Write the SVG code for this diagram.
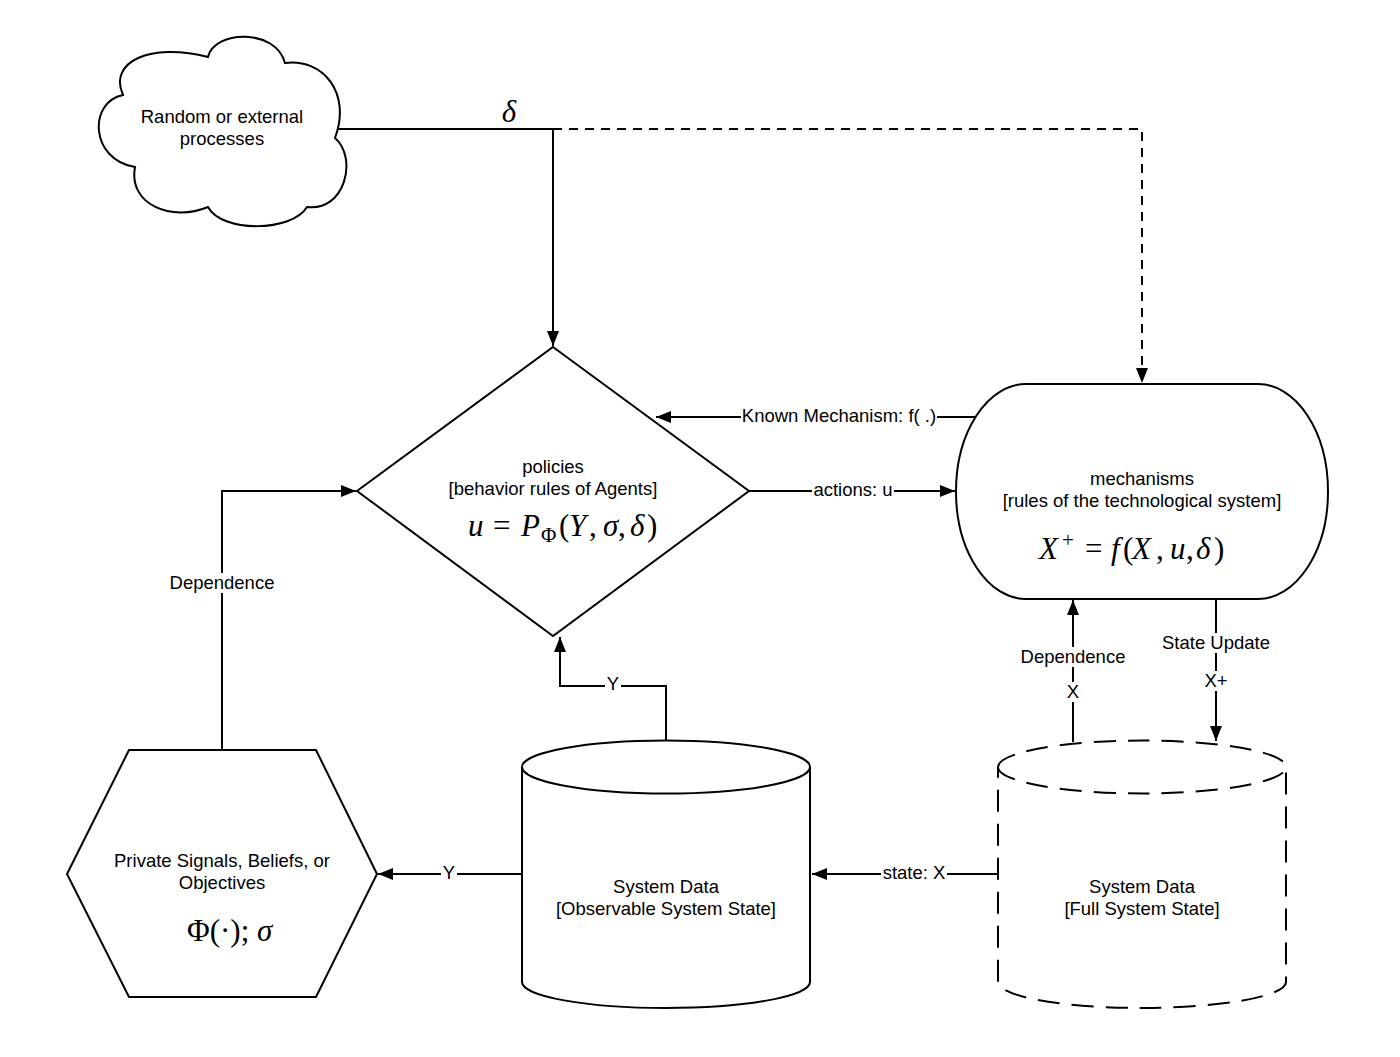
<svg xmlns="http://www.w3.org/2000/svg" width="1400" height="1057" viewBox="0 0 1400 1057">
<style>
.s{fill:#fff;stroke:#000;stroke-width:2}
.d{fill:#fff;stroke:#000;stroke-width:2;stroke-dasharray:22 12}
.c{fill:none;stroke:#000;stroke-width:2}
.cd{fill:none;stroke:#000;stroke-width:2;stroke-dasharray:9 7}
.t{font-family:"Liberation Sans",Arial,sans-serif;font-size:18.5px;fill:#000;text-anchor:middle}
.bg{fill:#fff;stroke:none}
.m{font-family:"Liberation Serif","Times New Roman",serif;font-size:31px;fill:#000}
.i{font-style:italic}
.sub{font-size:21px}
</style>
<defs>
<marker id="a" markerUnits="userSpaceOnUse" markerWidth="15" markerHeight="12" refX="15" refY="6" orient="auto">
<path d="M0,0 L15,6 L0,12 Z" fill="#000"/>
</marker>
</defs>
<rect width="1400" height="1057" fill="#fff"/>

<g id="connectors">
<path class="c" d="M336,129 H553"/>
<path class="c" d="M553,129 V346" marker-end="url(#a)"/>
<path class="cd" d="M553,129 H1142 V383" marker-end="url(#a)"/>
<path class="c" d="M975,417 H656" marker-end="url(#a)"/>
<path class="c" d="M749,491 H955" marker-end="url(#a)"/>
<path class="c" d="M222,750 V491 H356" marker-end="url(#a)"/>
<path class="c" d="M666,740 V686 H560 V637" marker-end="url(#a)"/>
<path class="c" d="M521,874 H378" marker-end="url(#a)"/>
<path class="c" d="M998,874 H812" marker-end="url(#a)"/>
<path class="c" d="M1073,742 V600" marker-end="url(#a)"/>
<path class="c" d="M1216,599 V741" marker-end="url(#a)"/>
<text class="m i" x="509" y="122" text-anchor="middle" font-size="28">δ</text>
<rect class="bg" x="741" y="406" width="196" height="20"/>
<text class="t" x="839" y="422">Known Mechanism: f( .)</text>
<rect class="bg" x="812" y="480" width="82" height="20"/>
<text class="t" x="853" y="496">actions: u</text>
<rect class="bg" x="168" y="573" width="108" height="20"/>
<text class="t" x="222" y="589">Dependence</text>
<rect class="bg" x="605" y="674" width="16" height="20"/>
<text class="t" x="613" y="690">Y</text>
<rect class="bg" x="441" y="863" width="16" height="20"/>
<text class="t" x="449" y="879">Y</text>
<rect class="bg" x="881" y="863" width="66" height="20"/>
<text class="t" x="914" y="879">state: X</text>
<rect class="bg" x="1019" y="647" width="108" height="20"/>
<text class="t" x="1073" y="663">Dependence</text>
<rect class="bg" x="1065" y="682" width="16" height="20"/>
<text class="t" x="1073" y="698">X</text>
<rect class="bg" x="1161" y="633" width="110" height="20"/>
<text class="t" x="1216" y="649">State Update</text>
<rect class="bg" x="1203" y="671" width="26" height="20"/>
<text class="t" x="1216" y="687">X+</text>
</g>

<g id="cloud">
<path class="s" d="M123,95 C108,62 150,42 208,57 C214,30 276,28 285,63 C322,58 352,92 335,138 C358,158 345,212 307,207 C292,232 222,233 208,207 C172,222 128,205 135,167 C90,160 88,102 123,95 Z"/>
<text class="t" x="222" y="123">Random or external</text>
<text class="t" x="222" y="145">processes</text>
</g>

<g id="policies">
<path class="s" d="M553,347 L749,491 L553,636 L357,491 Z"/>
<text class="t" x="553" y="473">policies</text>
<text class="t" x="553" y="495">[behavior rules of Agents]</text>
<text class="m" y="536"><tspan class="i" x="468">u</tspan><tspan x="493">=</tspan><tspan class="i" x="521">P</tspan><tspan class="sub" x="541" dy="6">Φ</tspan><tspan x="559" dy="-6">(</tspan><tspan class="i" x="569">Y</tspan><tspan x="589">,</tspan><tspan class="i" x="603">σ</tspan><tspan x="618">,</tspan><tspan class="i" x="630">δ</tspan><tspan x="647">)</tspan></text>
</g>

<g id="mechanisms">
<path class="s" d="M1026,384 H1258 A70,107.5 0 0 1 1258,599 H1026 A70,107.5 0 0 1 1026,384 Z"/>
<text class="t" x="1142" y="485">mechanisms</text>
<text class="t" x="1142" y="507">[rules of the technological system]</text>
<text class="m" y="559"><tspan class="i" x="1039">X</tspan><tspan class="sub" x="1062" dy="-12">+</tspan><tspan x="1085" dy="12">=</tspan><tspan class="i" x="1111">f</tspan><tspan x="1123">(</tspan><tspan class="i" x="1132">X</tspan><tspan x="1156">,</tspan><tspan class="i" x="1170">u</tspan><tspan x="1186">,</tspan><tspan class="i" x="1196">δ</tspan><tspan x="1214">)</tspan></text>
</g>

<g id="private-signals">
<path class="s" d="M129,750 L316,750 L377,874 L316,997 L129,997 L67,874 Z"/>
<text class="t" x="222" y="867">Private Signals, Beliefs, or</text>
<text class="t" x="222" y="889">Objectives</text>
<text class="m" x="187" y="941" font-size="30">Φ(·); <tspan class="i">σ</tspan></text>
</g>

<g id="observable-data">
<path class="s" d="M522,767 A144,26.5 0 0 1 810,767 V982 A144,26 0 0 1 522,982 Z"/>
<path class="c" d="M522,767 A144,26.5 0 0 0 810,767"/>
<text class="t" x="666" y="893">System Data</text>
<text class="t" x="666" y="915">[Observable System State]</text>
</g>

<g id="full-data">
<path class="d" d="M998,767 A144,26.5 0 0 1 1286,767 V982 A144,26 0 0 1 998,982 Z"/>
<path class="d" style="fill:none" d="M998,767 A144,26.5 0 0 0 1286,767"/>
<text class="t" x="1142" y="893">System Data</text>
<text class="t" x="1142" y="915">[Full System State]</text>
</g>
</svg>
